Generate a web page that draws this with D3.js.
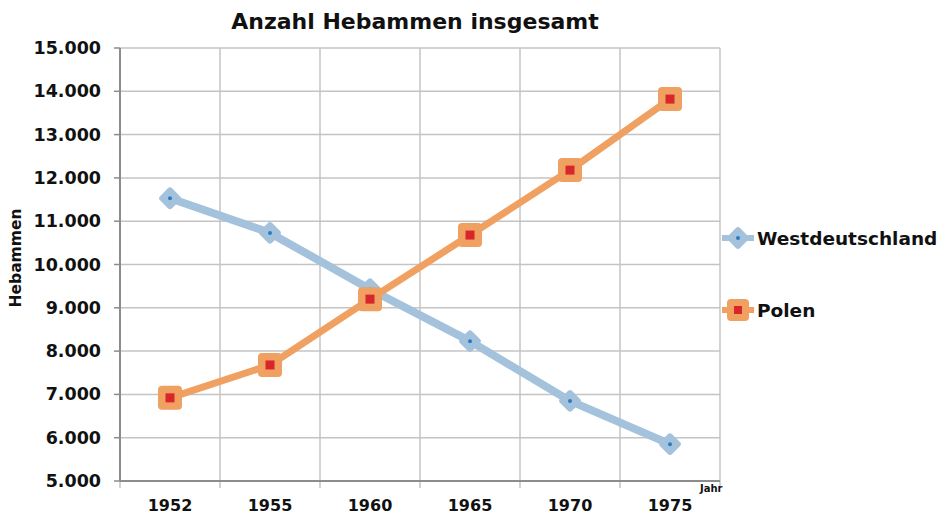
<!DOCTYPE html>
<html>
<head>
<meta charset="utf-8">
<script src="https://cdn.jsdelivr.net/npm/d3@7"></script>
<style>
body { margin: 0; background: #fff; }
text { font-family: "DejaVu Sans", sans-serif; font-weight: bold; fill: #111; }
</style>
</head>
<body>
<svg id="chart" width="949" height="514"></svg>
<script>
var years = ["1952", "1955", "1960", "1965", "1970", "1975"];
var westdeutschland = [11530, 10730, 9430, 8230, 6850, 5850];
var polen = [6920, 7680, 9200, 10680, 12180, 13820];
var yTicks = [5000, 6000, 7000, 8000, 9000, 10000, 11000, 12000, 13000, 14000, 15000];

var svg = d3.select("#chart");
var plotL = 120, plotR = 720, plotT = 48, plotB = 481;

var x = d3.scaleBand().domain(years).range([plotL, plotR]);
var y = d3.scaleLinear().domain([5000, 15000]).range([plotB, plotT]);
var fmt = function(v) { return d3.format(",")(v).replace(/,/g, "."); };

// gridlines
svg.selectAll(".hgrid").data(yTicks).enter().append("line")
  .attr("x1", plotL).attr("x2", plotR)
  .attr("y1", function(d) { return y(d); }).attr("y2", function(d) { return y(d); })
  .style("stroke", "#c4c4c4").style("stroke-width", 1.5);

var vlines = years.map(function(d) { return x(d); }).concat([plotR]);
svg.selectAll(".vgrid").data(vlines).enter().append("line")
  .attr("x1", function(d) { return d; }).attr("x2", function(d) { return d; })
  .attr("y1", plotT).attr("y2", plotB + 7)
  .style("stroke", "#c4c4c4").style("stroke-width", 1.5);

// axes
svg.append("line").attr("x1", plotL).attr("x2", plotL).attr("y1", plotT).attr("y2", plotB)
  .style("stroke", "#8c8c8c").style("stroke-width", 2);
svg.append("line").attr("x1", plotL).attr("x2", plotR).attr("y1", plotB).attr("y2", plotB)
  .style("stroke", "#8c8c8c").style("stroke-width", 2);
svg.selectAll(".ytick").data(yTicks).enter().append("line")
  .attr("x1", plotL - 6).attr("x2", plotL)
  .attr("y1", function(d) { return y(d); }).attr("y2", function(d) { return y(d); })
  .style("stroke", "#8c8c8c").style("stroke-width", 1.5);

svg.selectAll(".ylab").data(yTicks).enter().append("text")
  .attr("x", 101).attr("y", function(d) { return y(d); })
  .attr("text-anchor", "end").attr("dominant-baseline", "central")
  .style("font-size", "17.5px").text(fmt);

svg.selectAll(".xlab").data(years).enter().append("text")
  .attr("x", function(d) { return x(d) + x.bandwidth() / 2; }).attr("y", 505)
  .attr("text-anchor", "middle").attr("dominant-baseline", "central")
  .style("font-size", "16px").text(function(d) { return d; });

svg.append("text").attr("x", 700).attr("y", 492).style("font-size", "10px").text("Jahr");

svg.append("text").attr("transform", "translate(21,258) rotate(-90)")
  .attr("text-anchor", "middle").style("font-size", "15.5px").text("Hebammen");

svg.append("text").attr("x", 415).attr("y", 29).attr("text-anchor", "middle")
  .style("font-size", "22px").text("Anzahl Hebammen insgesamt");

// series
var line = d3.line()
  .x(function(d, i) { return x(years[i]) + x.bandwidth() / 2; })
  .y(function(d) { return y(d); });

svg.append("path").datum(westdeutschland).attr("d", line)
  .style("fill", "none").style("stroke", "#a4c2dc").style("stroke-width", 8).style("stroke-linejoin", "round");
svg.append("path").datum(polen).attr("d", line)
  .style("fill", "none").style("stroke", "#f0a060").style("stroke-width", 7).style("stroke-linejoin", "round");

function diamond(g, cx, cy) {
  g.append("rect").attr("x", cx - 8.5).attr("y", cy - 8.5).attr("width", 17).attr("height", 17)
    .attr("rx", 3).attr("transform", "rotate(45," + cx + "," + cy + ")")
    .style("fill", "#a4c2dc");
  g.append("circle").attr("cx", cx).attr("cy", cy).attr("r", 2).style("fill", "#2a7cc4");
}
function square(g, cx, cy) {
  g.append("rect").attr("x", cx - 12).attr("y", cy - 12).attr("width", 24).attr("height", 24)
    .attr("rx", 4).style("fill", "#f0a060");
  g.append("rect").attr("x", cx - 4.5).attr("y", cy - 4.5).attr("width", 9).attr("height", 9)
    .style("fill", "#d8262a");
}

var marks = svg.append("g");
westdeutschland.forEach(function(d, i) { diamond(marks, x(years[i]) + x.bandwidth() / 2, y(d)); });
polen.forEach(function(d, i) { square(marks, x(years[i]) + x.bandwidth() / 2, y(d)); });

// legend
var legend = svg.append("g");
legend.append("line").attr("x1", 722).attr("x2", 754).attr("y1", 238).attr("y2", 238)
  .style("stroke", "#a4c2dc").style("stroke-width", 6);
diamond(legend, 738, 238);
legend.append("text").attr("x", 757).attr("y", 238).attr("dominant-baseline", "central")
  .style("font-size", "18.5px").text("Westdeutschland");

legend.append("line").attr("x1", 722).attr("x2", 754).attr("y1", 310).attr("y2", 310)
  .style("stroke", "#f0a060").style("stroke-width", 6);
legend.append("rect").attr("x", 727).attr("y", 299).attr("width", 22).attr("height", 22).attr("rx", 4).style("fill", "#f0a060");
legend.append("rect").attr("x", 734).attr("y", 306).attr("width", 8).attr("height", 8).style("fill", "#d8262a");
legend.append("text").attr("x", 757).attr("y", 310).attr("dominant-baseline", "central")
  .style("font-size", "18.5px").text("Polen");
</script>
</body>
</html>
